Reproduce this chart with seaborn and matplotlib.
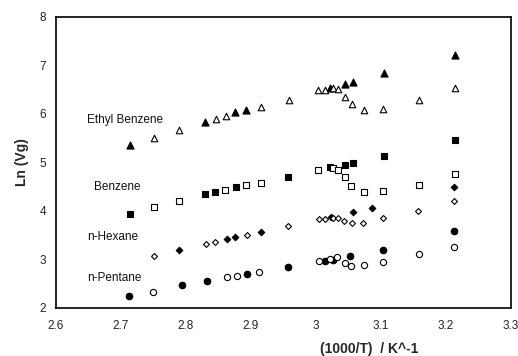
import matplotlib
matplotlib.use("Agg")
import matplotlib.pyplot as plt
import seaborn as sns
import pandas as pd
from matplotlib.ticker import FuncFormatter

# ---- data ----
eb_filled_x = [2.714, 2.830, 2.876, 2.893, 3.022, 3.045, 3.058, 3.105, 3.214]
eb_filled_y = [5.35, 5.83, 6.03, 6.08, 6.54, 6.61, 6.66, 6.84, 7.21]
eb_open_x = [2.751, 2.790, 2.846, 2.862, 2.916, 2.959, 3.004, 3.014, 3.026, 3.034, 3.045, 3.056, 3.074, 3.104, 3.159, 3.215]
eb_open_y = [5.50, 5.66, 5.89, 5.96, 6.13, 6.29, 6.48, 6.48, 6.54, 6.50, 6.35, 6.19, 6.07, 6.10, 6.28, 6.52]

bz_filled_x = [2.714, 2.829, 2.845, 2.877, 2.958, 3.022, 3.045, 3.058, 3.105, 3.214]
bz_filled_y = [3.94, 4.34, 4.38, 4.48, 4.69, 4.90, 4.95, 4.99, 5.12, 5.45]
bz_open_x = [2.751, 2.790, 2.861, 2.893, 2.916, 3.004, 3.027, 3.034, 3.045, 3.055, 3.074, 3.104, 3.159, 3.214]
bz_open_y = [4.07, 4.19, 4.43, 4.53, 4.57, 4.84, 4.88, 4.83, 4.69, 4.51, 4.39, 4.41, 4.54, 4.75]

hx_filled_x = [2.789, 2.863, 2.876, 2.916, 3.023, 3.058, 3.087, 3.213]
hx_filled_y = [3.19, 3.41, 3.45, 3.56, 3.88, 3.97, 4.06, 4.49]
hx_open_x = [2.751, 2.831, 2.845, 2.894, 2.958, 3.005, 3.014, 3.026, 3.034, 3.044, 3.056, 3.073, 3.104, 3.158, 3.213]
hx_open_y = [3.07, 3.32, 3.36, 3.50, 3.68, 3.82, 3.83, 3.84, 3.85, 3.79, 3.75, 3.74, 3.84, 4.00, 4.19]

pt_filled_x = [2.712, 2.794, 2.832, 2.895, 2.957, 3.014, 3.027, 3.053, 3.104, 3.212]
pt_filled_y = [2.25, 2.46, 2.55, 2.69, 2.83, 2.96, 2.99, 3.06, 3.19, 3.59]
pt_open_x = [2.749, 2.863, 2.879, 2.913, 3.005, 3.022, 3.033, 3.045, 3.055, 3.074, 3.104, 3.159, 3.212]
pt_open_y = [2.32, 2.63, 2.66, 2.73, 2.96, 3.01, 3.04, 2.93, 2.86, 2.88, 2.94, 3.10, 3.26]

label_names = ["Ethyl Benzene", "Benzene", "n-Hexane", "n-Pentane"]
label_x = [2.648, 2.659, 2.648, 2.648]
label_y = [5.87, 4.49, 3.46, 2.62]

x_ticks = [2.6, 2.7, 2.8, 2.9, 3.0, 3.1, 3.2, 3.3]
y_ticks = [2, 3, 4, 5, 6, 7, 8]
x_label = "(1000/T)  / K^-1"
y_label = "Ln (Vg)"

# ---- style ----
sns.set_style("white")
plt.rcParams["font.family"] = ["Liberation Sans", "DejaVu Sans"]

fig = plt.figure(figsize=(5.18, 3.56), dpi=100)
ax = fig.add_axes([55.7 / 518, 1 - 307.7 / 356, (510.7 - 55.7) / 518, (307.7 - 16.7) / 356])

series = [
    (eb_filled_x, eb_filled_y, "^", True, 26),
    (eb_open_x, eb_open_y, "^", False, 22),
    (bz_filled_x, bz_filled_y, "s", True, 22),
    (bz_open_x, bz_open_y, "s", False, 22),
    (hx_filled_x, hx_filled_y, "D", True, 11),
    (hx_open_x, hx_open_y, "D", False, 9),
    (pt_filled_x, pt_filled_y, "o", True, 22),
    (pt_open_x, pt_open_y, "o", False, 20),
]
for xs, ys, mk, filled, s in series:
    df = pd.DataFrame({"x": xs, "y": ys})
    sns.scatterplot(
        data=df, x="x", y="y", ax=ax, marker=mk, s=s,
        color="black" if filled else "white",
        edgecolor="black", linewidth=0.8, legend=False, zorder=3,
    )

for name, lx, ly in zip(label_names, label_x, label_y):
    ax.text(lx, ly, name, fontsize=8.5, ha="left", va="center", color="#111111")

ax.set_xlim(2.6, 3.3)
ax.set_ylim(2, 8)
ax.set_xticks(x_ticks)
ax.set_yticks(y_ticks)
ax.xaxis.set_major_formatter(FuncFormatter(lambda v, p: f"{v:g}"))
ax.yaxis.set_major_formatter(FuncFormatter(lambda v, p: f"{v:g}"))
ax.tick_params(axis="x", direction="in", length=4, width=0.8, labelsize=8.5, pad=9, colors="black")
ax.tick_params(axis="y", direction="out", length=4, width=0.8, labelsize=8.5, pad=3, colors="black")
ax.tick_params(axis="x", labelcolor="#222222")
ax.tick_params(axis="y", labelcolor="#222222")

for sp in ax.spines.values():
    sp.set_visible(True)
    sp.set_color("black")
    sp.set_linewidth(1.2)

ax.set_xlabel(x_label, fontsize=10, fontweight="bold")
ax.set_ylabel(y_label, fontsize=10, fontweight="bold")
ax.xaxis.set_label_coords(0.69, -0.118)
ax.yaxis.set_label_coords(-0.058, 0.5)
ax.grid(False)

fig.savefig("out.png", dpi=100)
